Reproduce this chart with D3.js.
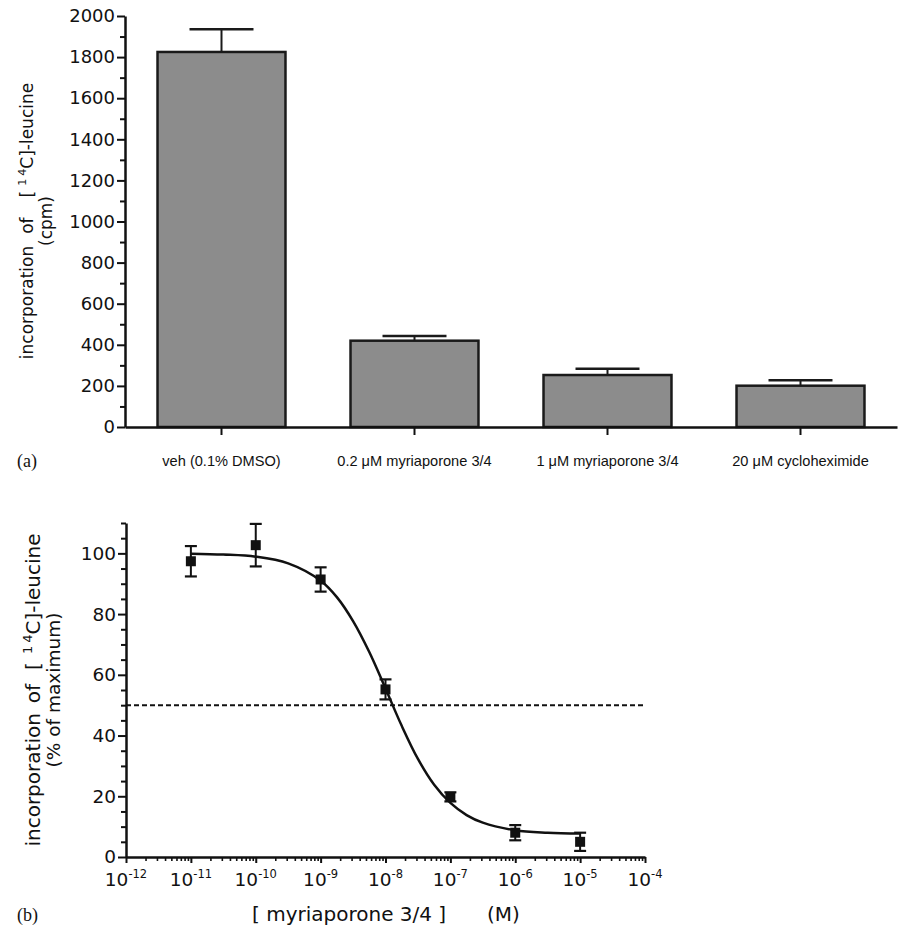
<!DOCTYPE html>
<html>
<head>
<meta charset="utf-8">
<script src="https://cdn.jsdelivr.net/npm/d3@7"></script>
<style>
  html, body { margin: 0; padding: 0; background: #fff; }
  svg { display: block; }
  text { fill: #111; }
</style>
</head>
<body>
<svg id="chart" width="906" height="939"></svg>
<script>
// ---------- Panel (a) data ----------
const barCategories = ["veh (0.1% DMSO)", "0.2 \u03bcM myriaporone 3/4", "1 \u03bcM myriaporone 3/4", "20 \u03bcM cycloheximide"];
const barValues = [1825, 420, 253, 201];
const barErrors = [110, 23, 30, 26];
const barYTicks = [0, 200, 400, 600, 800, 1000, 1200, 1400, 1600, 1800, 2000];

// ---------- Panel (b) data ----------
const doseExponents = [-11, -10, -9, -8, -7, -6, -5];
const responseValues = [97.4, 102.7, 91.4, 55.2, 19.8, 8.0, 5.0];
const responseErrors = [5.0, 7.0, 4.0, 3.3, 1.5, 2.5, 3.0];
const fitExponents = [-11, -10.5, -10, -9.5, -9, -8.75, -8.5, -8.25, -8, -7.75, -7.5, -7.25, -7, -6.75, -6.5, -6, -5.5, -5];
const fitValues =    [99.9, 99.6, 98.9, 96.7, 91.0, 85.6, 77.7, 67.5, 55.5, 43.2, 32.3, 23.8, 17.8, 13.8, 11.3, 8.8, 8.0, 7.7];
const halfLine = 50;
const lineYTicks = [0, 20, 40, 60, 80, 100];
const xDecades = [-12, -11, -10, -9, -8, -7, -6, -5, -4];

const svg = d3.select("#chart");
const SANS = "'DejaVu Sans', Verdana, sans-serif";

// ================= Panel (a) =================
const ga = svg.append("g");
const xA = d3.scaleBand().domain(barCategories).range([125, 897]).paddingInner(0.337).paddingOuter(0.1685);
const yA = d3.scaleLinear().domain([0, 2000]).range([427, 16]);

// minor ticks
ga.append("g").attr("transform", "translate(125,0)")
  .call(d3.axisLeft(yA).tickValues(d3.range(100, 2000, 200)).tickSize(5).tickFormat(""))
  .call(g => g.select(".domain").remove())
  .call(g => g.selectAll("line").attr("stroke", "#111").attr("stroke-width", 2));
const yAxisA = ga.append("g").attr("transform", "translate(125,0)")
  .call(d3.axisLeft(yA).tickValues(barYTicks).tickSize(8).tickPadding(2).tickSizeOuter(0).tickFormat(d3.format("d")));
yAxisA.select(".domain").attr("stroke", "#111").attr("stroke-width", 2.5);
yAxisA.selectAll("line").attr("stroke", "#111").attr("stroke-width", 2);
yAxisA.selectAll("text").attr("font-family", SANS).attr("font-size", 18).attr("fill", "#111");

// bars
ga.selectAll("rect.bar").data(barCategories).join("rect")
  .attr("class", "bar")
  .attr("x", d => xA(d))
  .attr("width", xA.bandwidth())
  .attr("y", (d, i) => yA(barValues[i]))
  .attr("height", (d, i) => yA(0) - yA(barValues[i]))
  .attr("fill", "#8c8c8c")
  .attr("stroke", "#1a1a1a")
  .attr("stroke-width", 2.5);

// error bars (upper only)
const capW = xA.bandwidth() / 2;
ga.selectAll("line.err").data(barCategories).join("line")
  .attr("class", "err")
  .attr("x1", d => xA(d) + xA.bandwidth() / 2)
  .attr("x2", d => xA(d) + xA.bandwidth() / 2)
  .attr("y1", (d, i) => yA(barValues[i]))
  .attr("y2", (d, i) => yA(barValues[i] + barErrors[i]))
  .attr("stroke", "#1a1a1a").attr("stroke-width", 2);
ga.selectAll("line.cap").data(barCategories).join("line")
  .attr("class", "cap")
  .attr("x1", d => xA(d) + xA.bandwidth() / 2 - capW / 2)
  .attr("x2", d => xA(d) + xA.bandwidth() / 2 + capW / 2)
  .attr("y1", (d, i) => yA(barValues[i] + barErrors[i]))
  .attr("y2", (d, i) => yA(barValues[i] + barErrors[i]))
  .attr("stroke", "#1a1a1a").attr("stroke-width", 2.5);

// x axis
const xAxisA = ga.append("g").attr("transform", "translate(0,427)")
  .call(d3.axisBottom(xA).tickSize(8).tickSizeOuter(0).tickFormat(""));
xAxisA.select(".domain").attr("stroke", "#111").attr("stroke-width", 2.5);
xAxisA.selectAll("line").attr("stroke", "#111").attr("stroke-width", 2);
ga.selectAll("text.cat").data(barCategories).join("text")
  .attr("class", "cat")
  .attr("x", d => xA(d) + xA.bandwidth() / 2)
  .attr("y", 466)
  .attr("text-anchor", "middle")
  .attr("font-family", "'Liberation Sans', Arial, sans-serif")
  .attr("font-size", 14.6)
  .text(d => d);

ga.append("text").attr("x", 17).attr("y", 467)
  .attr("font-family", "'Liberation Serif', 'Times New Roman', serif")
  .attr("font-size", 18).text("(a)");

// y label helper
function yLabel(g, cy, line1x, line2x, line2, fs1, fs2, gap1, gap2, gapBr) {
  const t1 = g.append("text")
    .attr("transform", `translate(${line1x},${cy}) rotate(-90)`)
    .attr("text-anchor", "middle")
    .attr("font-family", SANS).attr("font-size", fs1);
  t1.append("tspan").text("incorporation");
  t1.append("tspan").attr("dx", gap1).text("of");
  t1.append("tspan").attr("dx", gap2).text("[");
  t1.append("tspan").attr("dx", gapBr).attr("font-size", fs1 * 0.65).attr("dy", -fs1 * 0.4).text("1");
  t1.append("tspan").attr("dx", 3).attr("font-size", fs1 * 0.65).text("4");
  t1.append("tspan").attr("dy", fs1 * 0.4).text("C]-leucine");
  g.append("text")
    .attr("transform", `translate(${line2x},${cy}) rotate(-90)`)
    .attr("text-anchor", "middle")
    .attr("font-family", SANS).attr("font-size", fs2)
    .style("white-space", "pre")
    .text(line2);
}
yLabel(ga, 221, 33, 52, "(cpm)", 17, 17, 12, 20, 5);

// ================= Panel (b) =================
const gb = svg.append("g");
const xB = d3.scaleLog().domain([1e-12, 1e-4]).range([126, 645]);
const yB = d3.scaleLinear().domain([0, 110]).range([857, 523]);

// y minor ticks
gb.append("g").attr("transform", "translate(126,0)")
  .call(d3.axisLeft(yB).tickValues(d3.range(5, 111, 5).filter(v => v % 20 !== 0)).tickSize(5).tickFormat(""))
  .call(g => g.select(".domain").remove())
  .call(g => g.selectAll("line").attr("stroke", "#111").attr("stroke-width", 2));
const yAxisB = gb.append("g").attr("transform", "translate(126,0)")
  .call(d3.axisLeft(yB).tickValues(lineYTicks).tickSize(8).tickPadding(2).tickSizeOuter(0).tickFormat(d3.format("d")));
yAxisB.select(".domain").attr("stroke", "#111").attr("stroke-width", 2.5);
yAxisB.selectAll("line").attr("stroke", "#111").attr("stroke-width", 2);
yAxisB.selectAll("text").attr("font-family", SANS).attr("font-size", 18.5).attr("fill", "#111");

// x minor ticks
const minorVals = [];
xDecades.slice(0, -1).forEach(e => { for (let m = 2; m <= 9; m++) minorVals.push(m * Math.pow(10, e)); });
gb.append("g").attr("transform", "translate(0,857)")
  .call(d3.axisBottom(xB).tickValues(minorVals).tickSize(4).tickFormat(""))
  .call(g => g.select(".domain").remove())
  .call(g => g.selectAll("line").attr("stroke", "#111").attr("stroke-width", 1.6));
const xAxisB = gb.append("g").attr("transform", "translate(0,857)")
  .call(d3.axisBottom(xB).tickValues(xDecades.map(e => Math.pow(10, e))).tickSize(6).tickSizeOuter(0).tickFormat(""));
xAxisB.select(".domain").attr("stroke", "#111").attr("stroke-width", 2.5);
xAxisB.selectAll("line").attr("stroke", "#111").attr("stroke-width", 2);

// x tick labels with superscripts
const xl = gb.selectAll("text.xl").data(xDecades).join("text")
  .attr("class", "xl")
  .attr("x", d => xB(Math.pow(10, d)))
  .attr("y", 886)
  .attr("text-anchor", "middle")
  .attr("font-family", SANS).attr("font-size", 18.5);
xl.append("tspan").text("10");
xl.append("tspan").attr("font-size", 11.5).attr("dy", -8).text(d => "-" + Math.abs(d));

// dashed 50% line
gb.append("line")
  .attr("x1", xB(1e-12)).attr("x2", xB(1e-4))
  .attr("y1", yB(halfLine)).attr("y2", yB(halfLine))
  .attr("stroke", "#111").attr("stroke-width", 2).attr("stroke-dasharray", "5,3");

// fitted curve
const fitPts = fitExponents.map((e, i) => [xB(Math.pow(10, e)), yB(fitValues[i])]);
gb.append("path")
  .attr("d", d3.line().curve(d3.curveCatmullRom.alpha(0.5))(fitPts))
  .attr("fill", "none").attr("stroke", "#111").attr("stroke-width", 2.5);

// error bars
const capB = 12;
doseExponents.forEach((e, i) => {
  const cx = xB(Math.pow(10, e));
  const top = yB(responseValues[i] + responseErrors[i]);
  const bot = yB(responseValues[i] - responseErrors[i]);
  gb.append("line").attr("x1", cx).attr("x2", cx).attr("y1", top).attr("y2", bot)
    .attr("stroke", "#111").attr("stroke-width", 2);
  [top, bot].forEach(yv => gb.append("line")
    .attr("x1", cx - capB / 2).attr("x2", cx + capB / 2).attr("y1", yv).attr("y2", yv)
    .attr("stroke", "#111").attr("stroke-width", 2.2));
});

// markers
const ms = 10;
gb.selectAll("rect.pt").data(doseExponents).join("rect")
  .attr("class", "pt")
  .attr("x", d => xB(Math.pow(10, d)) - ms / 2)
  .attr("y", (d, i) => yB(responseValues[i]) - ms / 2)
  .attr("width", ms).attr("height", ms)
  .attr("fill", "#111");

// axis titles
yLabel(gb, 690, 40, 60, "(% of maximum)", 20, 18.5, 10, 14, 8);
gb.append("text")
  .attr("x", 252).attr("y", 921)
  .attr("font-family", SANS).attr("font-size", 20)
  .style("white-space", "pre")
  .text("[ myriaporone 3/4 ]");
gb.append("text")
  .attr("x", 487).attr("y", 921)
  .attr("font-family", SANS).attr("font-size", 20)
  .text("(M)");
gb.append("text").attr("x", 17).attr("y", 921)
  .attr("font-family", "'Liberation Serif', 'Times New Roman', serif")
  .attr("font-size", 18).text("(b)");
</script>
</body>
</html>
